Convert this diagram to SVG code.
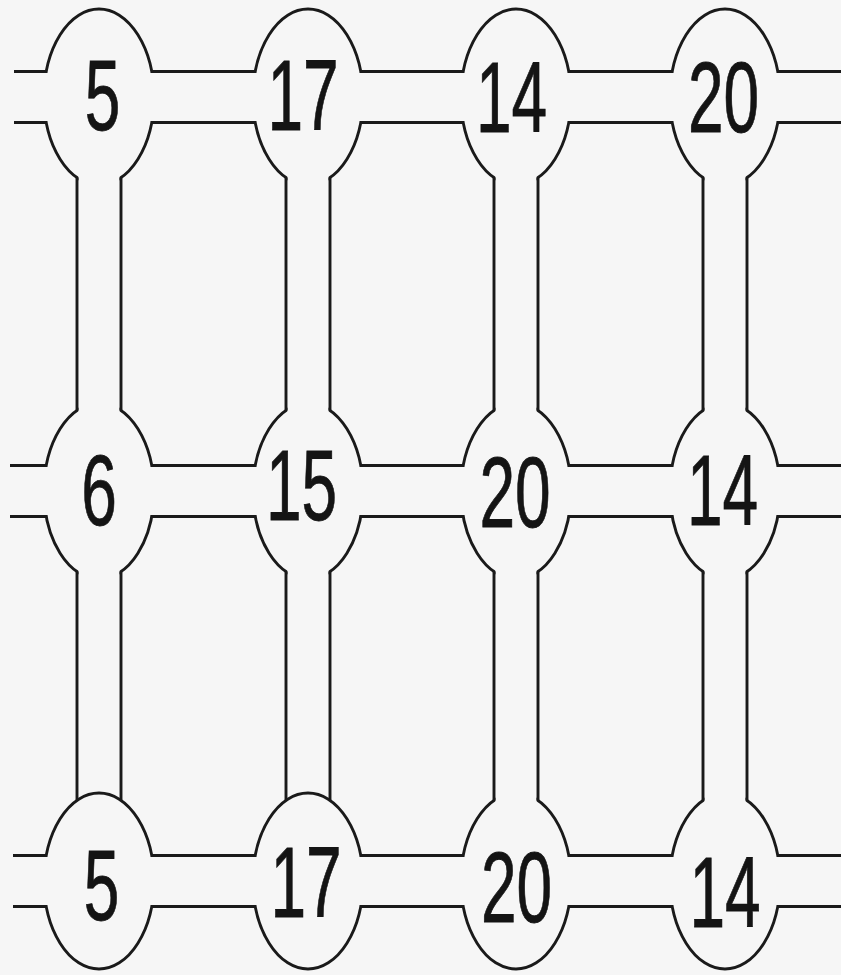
<svg xmlns="http://www.w3.org/2000/svg" width="841" height="975" viewBox="0 0 841 975">
  <defs>
    <style>
      .bg { fill: #f6f6f6; }
      .ln { stroke: #1a1a1a; stroke-width: 2.9; fill: none; }
      .nd { fill: none; stroke: #1a1a1a; stroke-width: 2.9; }
      .t { font-family: "Liberation Sans", Arial, sans-serif; font-size: 100px; fill: #141414; stroke: #141414; stroke-width: 0.8; text-anchor: middle; }
    </style>
    <mask id="gaps" maskUnits="userSpaceOnUse" x="0" y="0" width="841" height="975">
      <rect x="0" y="0" width="841" height="975" fill="#fff"/>
      <rect x="0" y="73" width="841" height="48" fill="#000"/>
      <rect x="0" y="467" width="841" height="48" fill="#000"/>
      <rect x="0" y="857" width="841" height="48" fill="#000"/>
      <rect x="78.5" y="97" width="41" height="394" fill="#000"/>
      <rect x="287.5" y="97" width="41" height="394" fill="#000"/>
      <rect x="495.5" y="97" width="41" height="394" fill="#000"/>
      <rect x="704.5" y="97" width="41" height="394" fill="#000"/>
      <rect x="78.5" y="491" width="41" height="200" fill="#000"/>
      <rect x="287.5" y="491" width="41" height="200" fill="#000"/>
      <rect x="495.5" y="491" width="41" height="390" fill="#000"/>
      <rect x="704.5" y="491" width="41" height="390" fill="#000"/>
    </mask>
  </defs>

  <rect class="bg" x="0" y="0" width="841" height="975"/>

  <g id="connectors">
    <path class="ln" d="M14 71.5H46.4M151.6 71.5H255.4M360.6 71.5H463.4M568.6 71.5H672.4M777.6 71.5H841"/>
    <path class="ln" d="M14 122.5H46.4M151.6 122.5H255.4M360.6 122.5H463.4M568.6 122.5H672.4M777.6 122.5H841"/>
    <path class="ln" d="M10 465.5H46.4M151.6 465.5H255.4M360.6 465.5H463.4M568.6 465.5H672.4M777.6 465.5H841"/>
    <path class="ln" d="M10 516.5H46.4M151.6 516.5H255.4M360.6 516.5H463.4M568.6 516.5H672.4M777.6 516.5H841"/>
    <path class="ln" d="M13 855.5H46.4M151.6 855.5H255.4M360.6 855.5H463.4M568.6 855.5H672.4M777.6 855.5H841"/>
    <path class="ln" d="M13 906.5H46.4M151.6 906.5H255.4M360.6 906.5H463.4M568.6 906.5H672.4M777.6 906.5H841"/>
    <path class="ln" d="M77 177.7V410.3M121 177.7V410.3M286 177.7V410.3M330 177.7V410.3M494 177.7V410.3M538 177.7V410.3M703 177.7V410.3M747 177.7V410.3"/>
    <path class="ln" d="M77 571.7V800.3M121 571.7V800.3M286 571.7V800.3M330 571.7V800.3M494 571.7V800.3M538 571.7V800.3M703 571.7V800.3M747 571.7V800.3"/>
  </g>

  <g id="n-r1c1"><ellipse class="nd" cx="99" cy="97" rx="55" ry="88" mask="url(#gaps)"/><text class="t" transform="translate(102.5 130) scale(0.64 1)">5</text></g>
  <g id="n-r1c2"><ellipse class="nd" cx="308" cy="97" rx="55" ry="88" mask="url(#gaps)"/><text class="t" transform="translate(303 130) scale(0.64 1)">17</text></g>
  <g id="n-r1c3"><ellipse class="nd" cx="516" cy="97" rx="55" ry="88" mask="url(#gaps)"/><text class="t" transform="translate(511.5 132) scale(0.64 1)">14</text></g>
  <g id="n-r1c4"><ellipse class="nd" cx="725" cy="97" rx="55" ry="88" mask="url(#gaps)"/><text class="t" transform="translate(723.5 132) scale(0.64 1)">20</text></g>

  <g id="n-r2c1"><ellipse class="nd" cx="99" cy="491" rx="55" ry="88" mask="url(#gaps)"/><text class="t" transform="translate(99 525) scale(0.64 1)">6</text></g>
  <g id="n-r2c2"><ellipse class="nd" cx="308" cy="491" rx="55" ry="88" mask="url(#gaps)"/><text class="t" transform="translate(301.5 520) scale(0.64 1)">15</text></g>
  <g id="n-r2c3"><ellipse class="nd" cx="516" cy="491" rx="55" ry="88" mask="url(#gaps)"/><text class="t" transform="translate(515 527) scale(0.64 1)">20</text></g>
  <g id="n-r2c4"><ellipse class="nd" cx="725" cy="491" rx="55" ry="88" mask="url(#gaps)"/><text class="t" transform="translate(722.5 525) scale(0.64 1)">14</text></g>

  <g id="n-r3c1"><ellipse class="nd" cx="99" cy="881" rx="55" ry="88" mask="url(#gaps)"/><text class="t" transform="translate(101.5 920) scale(0.64 1)">5</text></g>
  <g id="n-r3c2"><ellipse class="nd" cx="308" cy="881" rx="55" ry="88" mask="url(#gaps)"/><text class="t" transform="translate(306 917) scale(0.64 1)">17</text></g>
  <g id="n-r3c3"><ellipse class="nd" cx="516" cy="881" rx="55" ry="88" mask="url(#gaps)"/><text class="t" transform="translate(516.5 922) scale(0.64 1)">20</text></g>
  <g id="n-r3c4"><ellipse class="nd" cx="725" cy="881" rx="55" ry="88" mask="url(#gaps)"/><text class="t" transform="translate(725 927) scale(0.64 1)">14</text></g>
</svg>
